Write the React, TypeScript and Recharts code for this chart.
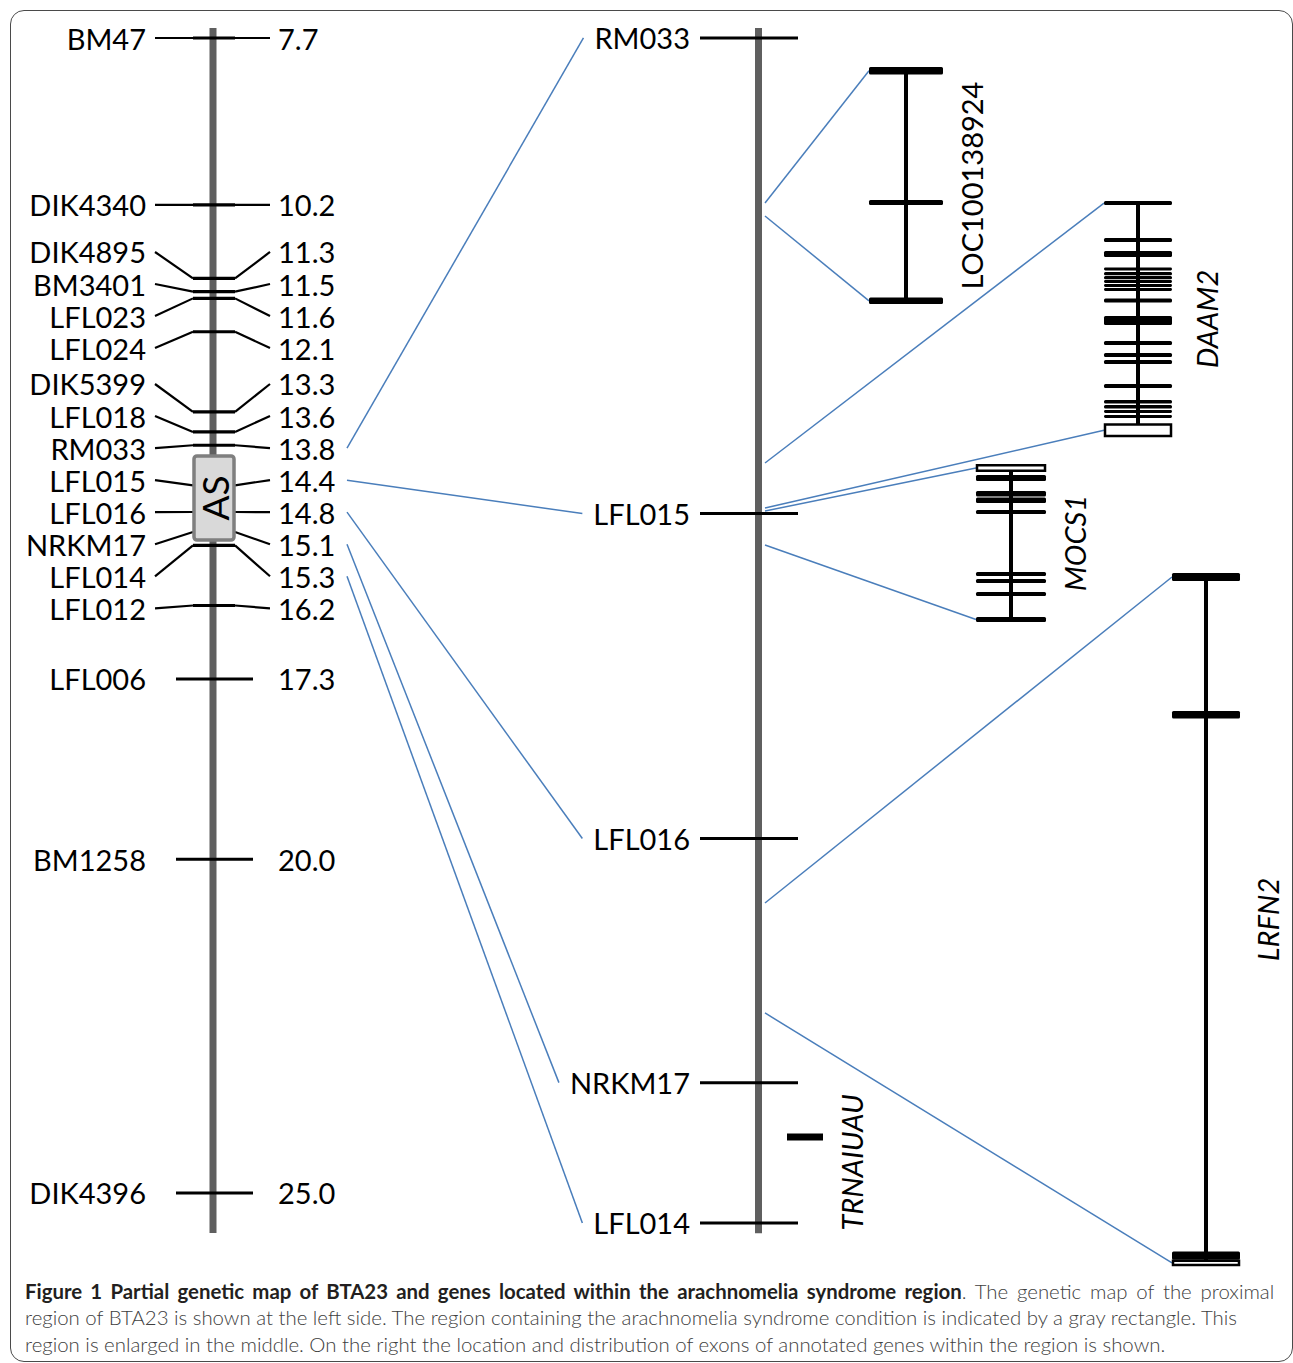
import React from "react";
import { ScatterChart, Scatter, XAxis, YAxis, ReferenceLine, ReferenceArea } from "recharts";

// ================= DATA =================
// Left: genetic map of proximal BTA23 (cM)
const leftMarkers = ["BM47", "DIK4340", "DIK4895", "BM3401", "LFL023", "LFL024", "DIK5399", "LFL018", "RM033", "LFL015", "LFL016", "NRKM17", "LFL014", "LFL012", "LFL006", "BM1258", "DIK4396"];
const leftPositionsCM = [7.7, 10.2, 11.3, 11.5, 11.6, 12.1, 13.3, 13.6, 13.8, 14.4, 14.8, 15.1, 15.3, 16.2, 17.3, 20.0, 25.0];
const leftPositionLabels = ["7.7", "10.2", "11.3", "11.5", "11.6", "12.1", "13.3", "13.6", "13.8", "14.4", "14.8", "15.1", "15.3", "16.2", "17.3", "20.0", "25.0"];
const frameworkMarkers = ["LFL006", "BM1258", "DIK4396"];
const leftChromosomeCM = [7.55, 25.6];
const asRegionCM = [13.96, 15.22];
const asLabel = "AS";

// Middle: enlarged AS region (Mb from RM033)
const middleMarkers = ["RM033", "LFL015", "LFL016", "NRKM17", "LFL014"];
const middlePositionsMb = [0.0, 0.6, 1.01, 1.318, 1.495];
const middleChromosomeMb = [-0.0126, 1.508];

// Genes located in the region (position on the middle map, Mb)
const geneNames = ["LOC100138924", "DAAM2", "MOCS1", "LRFN2"];
const geneStartMb = [0.2082, 0.5362, 0.5968, 1.0913];
const geneEndMb = [0.2246, 0.593, 0.6397, 1.2301];

// Exon structure, in % of the drawn gene length
const locExons = [[0, 3.2], [56.1, 58.2], [97.3, 100]];
const locUtr: number[][] = [];
const daam2Exons = [[0, 1.7], [15.7, 17.4], [21.2, 23.7], [28.2, 29.4], [30.1, 31.4], [31.8, 33.1], [33.5, 34.7], [35.2, 36.4], [36.9, 38.1], [41.3, 43.0], [48.7, 52.5], [59.3, 61.0], [64.4, 66.1], [67.4, 69.1], [77.5, 79.2], [84.3, 85.8], [86.4, 87.9], [88.6, 89.8], [90.7, 91.9]];
const daam2Utr = [[94.7, 99.6]];
const mocs1Exons = [[7.0, 10.8], [17.1, 20.6], [21.2, 24.7], [29.1, 31.6], [68.4, 70.9], [72.8, 75.3], [81.0, 83.5], [96.8, 100]];
const mocs1Utr = [[0.8, 4.2]];
const lrfn2Exons = [[0, 1.15], [19.9, 21.0], [97.9, 99.1]];
const lrfn2Utr = [[99.25, 99.85]];

const trnaName = "TRNAIUAU";
const trnaPositionMb = 1.3866;

const captionBold = "Figure 1 Partial genetic map of BTA23 and genes located within the arachnomelia syndrome region";
const captionLine1 = ". The genetic map of the proximal";
const captionLine2 = "region of BTA23 is shown at the left side. The region containing the arachnomelia syndrome condition is indicated by a gray rectangle. This";
const captionLine3 = "region is enlarged in the middle. On the right the location and distribution of exons of annotated genes within the region is shown.";

// ================= LAYOUT =================
const W = 1293;
const H = 1280;
const CM_DOMAIN: [number, number] = [7.1308, 26.3032];
const MB_DOMAIN: [number, number] = [-0.04794, 1.567];
const FONT = "Lato, 'Open Sans', sans-serif";
const FS = 29;
const LABEL_GAP_CM = 0.48;
const LEFT_X = 213;
const MID_X = 758.5;
const CHROM_COLOR = "#5f5f5f";
const BLUE = "#4a7ebb";
const CAP_FS = 20.4;
const CAP_W = 1253;

const geneLayout = [
  { x: 906, half: 37, labelDx: 66, italic: false, win: [0.0366, 0.3356], exons: locExons, utr: locUtr },
  { x: 1138, half: 34, labelDx: 69, italic: true, win: [0.2057, 0.5034], exons: daam2Exons, utr: daam2Utr },
  { x: 1011, half: 35, labelDx: 64, italic: true, win: [0.5375, 0.7368], exons: mocs1Exons, utr: mocs1Utr },
  { x: 1206, half: 34, labelDx: 62, italic: true, win: [0.675, 1.5493], exons: lrfn2Exons, utr: lrfn2Utr },
];

function mbToCm(v: number) {
  return CM_DOMAIN[0] + ((v - MB_DOMAIN[0]) / (MB_DOMAIN[1] - MB_DOMAIN[0])) * (CM_DOMAIN[1] - CM_DOMAIN[0]);
}

let ctx: CanvasRenderingContext2D | null = null;
function textWidth(s: string, font: string, fallbackSize: number) {
  if (typeof document !== "undefined" && !ctx) {
    const c = document.createElement("canvas");
    ctx = c.getContext("2d");
  }
  if (!ctx) return s.length * fallbackSize * 0.55;
  ctx.font = font;
  return ctx.measureText(s).width;
}

// cluster-based label de-overlap
function spreadLabels(values: number[], gap: number) {
  type C = { sum: number; n: number; idx: number[]; start: number };
  const cl: C[] = [];
  values.forEach((v, i) => {
    cl.push({ sum: v, n: 1, idx: [i], start: v });
    while (cl.length > 1) {
      const a = cl[cl.length - 2];
      const b = cl[cl.length - 1];
      const aEnd = a.start + (a.n - 1) * gap;
      if (b.start - aEnd < gap - 1e-9) {
        const m: C = { sum: a.sum + b.sum, n: a.n + b.n, idx: [...a.idx, ...b.idx], start: 0 };
        m.start = m.sum / m.n - ((m.n - 1) * gap) / 2;
        cl.splice(cl.length - 2, 2, m);
      } else break;
    }
  });
  const out = new Array(values.length).fill(0);
  cl.forEach((c) => c.idx.forEach((id, k) => (out[id] = c.start + k * gap)));
  return out;
}

const pctToMb = (win: number[], p: number) => win[0] + (p / 100) * (win[1] - win[0]);

const makeText = (anchor: string, size: number, weight = 400) => (p: any) => {
  const d = p.payload || {};
  const rot = d.rotate ? `rotate(-90 ${p.cx} ${p.cy})` : undefined;
  return (
    <text
      x={p.cx}
      y={p.cy}
      transform={rot}
      textAnchor={anchor}
      dominantBaseline="central"
      fontFamily={FONT}
      fontSize={size}
      fontWeight={weight}
      fontStyle={d.italic ? "italic" : "normal"}
      fill="#000"
    >
      {d.text}
    </text>
  );
};

export default function App() {
  const labelCM = spreadLabels(leftPositionsCM, LABEL_GAP_CM);
  const els: React.ReactElement[] = [];
  const ax = { xAxisId: "x" };

  // chromosomes
  els.push(
    <ReferenceLine key="chromL" {...ax} yAxisId="cm" segment={[{ x: LEFT_X, y: leftChromosomeCM[0] }, { x: LEFT_X, y: leftChromosomeCM[1] }]} stroke={CHROM_COLOR} strokeWidth={7} zIndex={100} />
  );
  els.push(
    <ReferenceLine key="chromM" {...ax} yAxisId="mb" segment={[{ x: MID_X, y: middleChromosomeMb[0] }, { x: MID_X, y: middleChromosomeMb[1] }]} stroke={CHROM_COLOR} strokeWidth={7} zIndex={100} />
  );

  // blue lines: left map -> middle map
  middleMarkers.forEach((name, j) => {
    const i = leftMarkers.indexOf(name);
    if (i < 0) return;
    const endX = 690 - textWidth(name, `${FS}px Lato`, FS) - 11;
    els.push(
      <ReferenceLine key={"bl" + j} {...ax} yAxisId="cm" segment={[{ x: 347, y: labelCM[i] }, { x: endX, y: mbToCm(middlePositionsMb[j]) }]} stroke={BLUE} strokeWidth={1.5} zIndex={150} />
    );
  });

  // blue lines: middle map -> gene drawings, plus gene backbone
  geneNames.forEach((g, k) => {
    const L = geneLayout[k];
    const all = [...L.exons, ...L.utr].sort((a, b) => a[0] - b[0]);
    const first = all[0];
    const last = all[all.length - 1];
    const topMb = pctToMb(L.win, (first[0] + first[1]) / 2);
    const botMb = pctToMb(L.win, (last[0] + last[1]) / 2);
    els.push(
      <ReferenceLine key={"gb1" + k} {...ax} yAxisId="mb" segment={[{ x: 765, y: geneStartMb[k] }, { x: L.x - L.half, y: topMb }]} stroke={BLUE} strokeWidth={1.5} zIndex={150} />
    );
    els.push(
      <ReferenceLine key={"gb2" + k} {...ax} yAxisId="mb" segment={[{ x: 765, y: geneEndMb[k] }, { x: L.x - L.half, y: botMb }]} stroke={BLUE} strokeWidth={1.5} zIndex={150} />
    );
    els.push(
      <ReferenceLine key={"gv" + k} {...ax} yAxisId="mb" segment={[{ x: L.x, y: topMb }, { x: L.x, y: botMb }]} stroke="#000" strokeWidth={4} zIndex={200} />
    );
  });

  // left ticks and connectors
  leftMarkers.forEach((name, i) => {
    const cm = leftPositionsCM[i];
    if (frameworkMarkers.includes(name)) {
      els.push(
        <ReferenceLine key={"lt" + i} {...ax} yAxisId="cm" segment={[{ x: 176, y: cm }, { x: 253, y: cm }]} stroke="#000" strokeWidth={3} zIndex={200} />
      );
      return;
    }
    const ly = labelCM[i];
    els.push(
      <ReferenceLine key={"lt" + i} {...ax} yAxisId="cm" segment={[{ x: 193, y: cm }, { x: 235, y: cm }]} stroke="#000" strokeWidth={3.2} zIndex={200} />
    );
    els.push(
      <ReferenceLine key={"lc1" + i} {...ax} yAxisId="cm" segment={[{ x: 155, y: ly }, { x: 193, y: cm }]} stroke="#000" strokeWidth={2.2} zIndex={200} />
    );
    els.push(
      <ReferenceLine key={"lc2" + i} {...ax} yAxisId="cm" segment={[{ x: 235, y: cm }, { x: 270, y: ly }]} stroke="#000" strokeWidth={2.2} zIndex={200} />
    );
  });

  // middle ticks
  middleMarkers.forEach((name, j) => {
    els.push(
      <ReferenceLine key={"mt" + j} {...ax} yAxisId="mb" segment={[{ x: 700, y: middlePositionsMb[j] }, { x: 798, y: middlePositionsMb[j] }]} stroke="#000" strokeWidth={3} zIndex={200} />
    );
  });

  // TRNA gene
  els.push(
    <ReferenceLine key="trna" {...ax} yAxisId="mb" segment={[{ x: 787, y: trnaPositionMb }, { x: 823, y: trnaPositionMb }]} stroke="#000" strokeWidth={7} zIndex={200} />
  );

  // exons
  geneNames.forEach((g, k) => {
    const L = geneLayout[k];
    L.exons.forEach((e, n) => {
      els.push(
        <ReferenceArea key={"ex" + k + "_" + n} {...ax} yAxisId="mb" x1={L.x - L.half} x2={L.x + L.half} y1={pctToMb(L.win, e[0])} y2={pctToMb(L.win, e[1])} fill="#000" fillOpacity={1} stroke="none" radius={1.5} zIndex={300} />
      );
    });
    L.utr.forEach((e, n) => {
      els.push(
        <ReferenceArea key={"ut" + k + "_" + n} {...ax} yAxisId="mb" x1={L.x - L.half + 1} x2={L.x + L.half - 1} y1={pctToMb(L.win, e[0])} y2={pctToMb(L.win, e[1])} fill="#fff" fillOpacity={1} stroke="#000" strokeWidth={2.5} zIndex={310} />
      );
    });
  });

  // AS box
  els.push(
    <ReferenceArea key="asbox" {...ax} yAxisId="cm" x1={194} x2={234} y1={asRegionCM[0]} y2={asRegionCM[1]} fill="#d9d9d9" fillOpacity={1} stroke="#7f7f7f" strokeWidth={3.5} radius={3} zIndex={400} />
  );

  const leftNames = leftMarkers.map((n, i) => ({ x: 146, y: labelCM[i], text: n }));
  const leftNums = leftPositionLabels.map((n, i) => ({ x: 278, y: labelCM[i], text: n }));
  const midNames = middleMarkers.map((n, j) => ({ x: 690, y: middlePositionsMb[j], text: n }));
  const asText = [{ x: LEFT_X + 2, y: (asRegionCM[0] + asRegionCM[1]) / 2, text: asLabel, rotate: true }];
  const geneLabels = geneNames.map((g, k) => ({
    x: geneLayout[k].x + geneLayout[k].labelDx,
    y: (geneLayout[k].win[0] + geneLayout[k].win[1]) / 2,
    text: g,
    rotate: true,
    italic: geneLayout[k].italic,
  }));
  geneLabels.push({ x: 852, y: trnaPositionMb + 0.032, text: trnaName, rotate: true, italic: true });

  // caption line 1 fitted to the full width through word spacing
  const natural =
    textWidth(captionBold, `700 ${CAP_FS}px Lato`, CAP_FS) + textWidth(captionLine1, `300 ${CAP_FS}px Lato`, CAP_FS);
  const spaces = (captionBold + captionLine1).split(" ").length - 1;
  const wordSpacing = Math.max(-3, (CAP_W - natural - 2) / spaces);

  return (
    <div style={{ position: "absolute", left: 0, top: 0, width: W, height: 1363, background: "#fff", overflow: "hidden" }}>
      <div style={{ position: "absolute", left: 10, top: 10, width: 1283, height: 1352, border: "1.5px solid #4a4a4a", borderRadius: 14, boxSizing: "border-box" }} />
      <div style={{ position: "absolute", left: 0, top: 0 }}>
        <ScatterChart width={W} height={H} margin={{ top: 0, right: 0, bottom: 0, left: 0 }}>
          <XAxis xAxisId="x" type="number" dataKey="x" domain={[0, W]} allowDataOverflow hide />
          <YAxis yAxisId="cm" type="number" dataKey="y" domain={CM_DOMAIN} allowDataOverflow reversed hide width={0} />
          <YAxis yAxisId="mb" type="number" dataKey="y" domain={MB_DOMAIN} allowDataOverflow reversed hide width={0} />
          {els}
          <Scatter xAxisId="x" yAxisId="cm" data={leftNames} shape={makeText("end", FS)} isAnimationActive={false} zIndex={600} />
          <Scatter xAxisId="x" yAxisId="cm" data={leftNums} shape={makeText("start", FS)} isAnimationActive={false} zIndex={600} />
          <Scatter xAxisId="x" yAxisId="cm" data={asText} shape={makeText("middle", 37)} isAnimationActive={false} zIndex={600} />
          <Scatter xAxisId="x" yAxisId="mb" data={midNames} shape={makeText("end", FS)} isAnimationActive={false} zIndex={600} />
          <Scatter xAxisId="x" yAxisId="mb" data={geneLabels} shape={makeText("middle", FS)} isAnimationActive={false} zIndex={600} />
        </ScatterChart>
      </div>
      <div style={{ position: "absolute", left: 25, top: 1278, width: CAP_W + 10, fontFamily: "Lato, sans-serif", fontWeight: 300, fontSize: CAP_FS, lineHeight: "26.3px", color: "#404040", whiteSpace: "nowrap" }}>
        <div style={{ wordSpacing }}>
          <span style={{ fontWeight: 700, color: "#231f20" }}>{captionBold}</span>
          {captionLine1}
        </div>
        <div>{captionLine2}</div>
        <div>{captionLine3}</div>
      </div>
    </div>
  );
}
